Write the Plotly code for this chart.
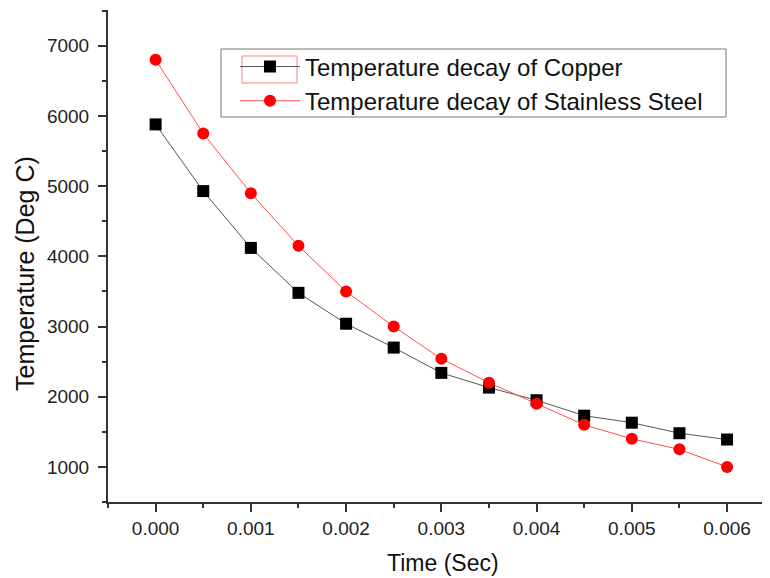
import plotly.graph_objects as go

time_sec = [0.0, 0.0005, 0.001, 0.0015, 0.002, 0.0025, 0.003,
            0.0035, 0.004, 0.0045, 0.005, 0.0055, 0.006]
copper = [5880, 4930, 4120, 3480, 3040, 2700, 2340,
          2130, 1950, 1730, 1630, 1480, 1390]
steel = [6800, 5750, 4900, 4150, 3500, 3000, 2540,
         2200, 1900, 1600, 1400, 1250, 1000]

font = "Liberation Sans, Arial, sans-serif"

fig = go.Figure()
fig.add_trace(go.Scatter(
    x=time_sec, y=copper, mode="lines+markers",
    name="Temperature decay of Copper",
    line=dict(color="#555555", width=1),
    marker=dict(symbol="square", size=12, color="black"),
))
fig.add_trace(go.Scatter(
    x=time_sec, y=steel, mode="lines+markers",
    name="Temperature decay of Stainless Steel",
    line=dict(color="#ff4d4d", width=1),
    marker=dict(symbol="circle", size=12, color="#ff0000"),
))

axis_common = dict(
    showgrid=False, zeroline=False, showline=True, automargin=False,
    linecolor="#333333", linewidth=2,
    ticks="outside", ticklen=8, tickwidth=2, tickcolor="#333333",
    tickfont=dict(family=font, size=19, color="#222222"),
)

fig.update_xaxes(
    range=[-0.0005, 0.00643], tick0=0, dtick=0.001, tickformat=".3f",
    minor=dict(dtick=0.0005, tick0=0, ticks="outside", ticklen=4, tickwidth=2, tickcolor="#333333"),
    **axis_common,
)
fig.update_yaxes(
    range=[500, 7510], tick0=0, dtick=1000, ticklabelstandoff=5,
    minor=dict(dtick=500, tick0=0, ticks="outside", ticklen=4, tickwidth=2, tickcolor="#333333"),
    **axis_common,
)

# axis titles placed as annotations to sit where Origin put them
fig.add_annotation(text="Time (Sec)", xref="paper", yref="paper", x=0.5076, y=-0.124,
                   showarrow=False, xanchor="center", yanchor="middle",
                   font=dict(family=font, size=23, color="#111111"))
fig.add_annotation(text="Temperature (Deg C)", xref="paper", yref="paper", x=-0.1258, y=0.4654,
                   showarrow=False, xanchor="center", yanchor="middle", textangle=-90,
                   font=dict(family=font, size=25, color="#111111"))

# legend frame and the red highlight box around the first legend symbol
fig.add_shape(type="rect", xref="paper", yref="paper", x0=0.1712, x1=0.9364, y0=0.7825, y1=0.9207,
              line=dict(color="#777777", width=1), fillcolor="white", layer="above")
fig.add_shape(type="rect", xref="paper", yref="paper", x0=0.2030, x1=0.2864, y0=0.8516, y1=0.9065,
              line=dict(color="#ff8080", width=1), layer="above")

# page body has an 8px margin, so the figure is shifted by (8, 8)
fig.update_layout(
    width=762, height=570,
    margin=dict(l=100, r=2, t=2, b=76),
    plot_bgcolor="white", paper_bgcolor="white",
    legend=dict(
        x=0.1924, y=0.930, xanchor="left", yanchor="top",
        borderwidth=0, bgcolor="rgba(0,0,0,0)",
        font=dict(family=font, size=24, color="#111111"),
        itemwidth=60, tracegroupgap=0,
    ),
)

fig.write_html("out.html")
